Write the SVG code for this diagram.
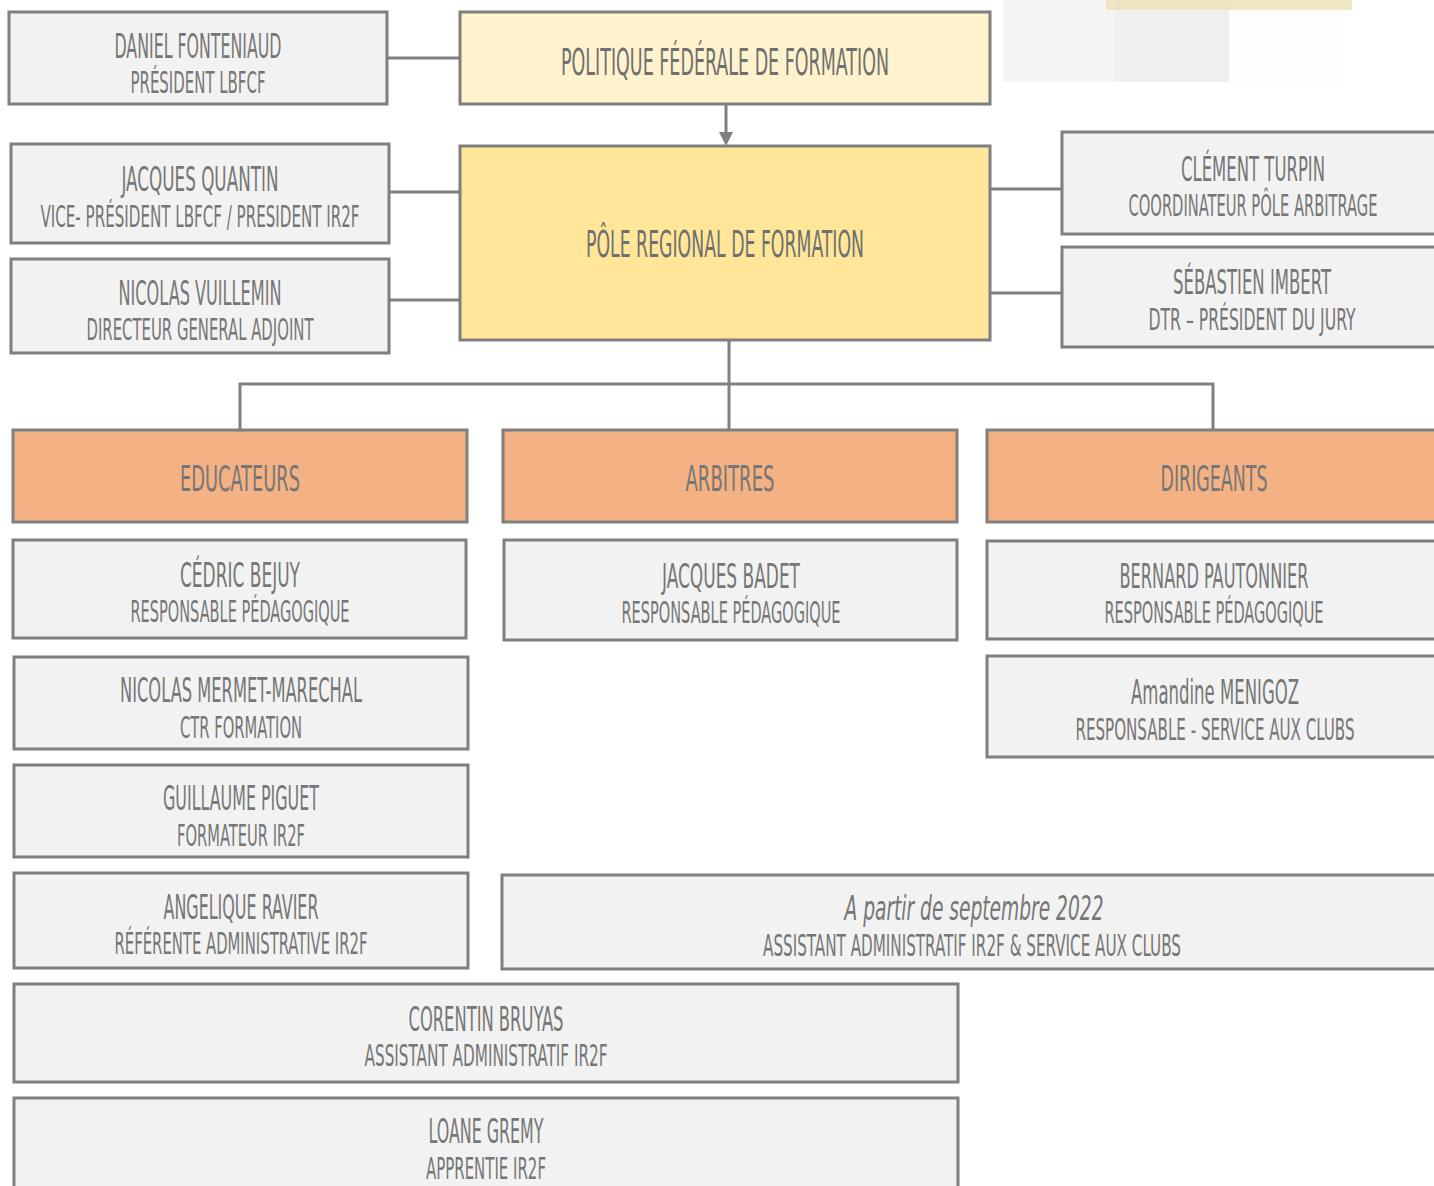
<svg xmlns="http://www.w3.org/2000/svg" width="1434" height="1186" viewBox="0 0 1434 1186">
<style>
.box{fill:#f2f2f2;stroke:#7f7f7f;stroke-width:3}
.pol{fill:#fff2cc;stroke:#7f7f7f;stroke-width:3}
.pole{fill:#ffe699;stroke:#7f7f7f;stroke-width:3}
.cat{fill:#f4b183;stroke:#7f7f7f;stroke-width:3}
.con{fill:none;stroke:#808080;stroke-width:3}
text{font-family:"Liberation Sans Narrow","DejaVu Sans Condensed","Liberation Sans",sans-serif;fill:#767676;text-anchor:middle}
.n{font-size:34px}
.s{font-size:30px}
.t{font-size:38px;fill:#6f6f6f}
.c{font-size:36px}
.i{font-style:italic}
</style>
<defs>
<marker id="ah" markerWidth="5" markerHeight="5" refX="2.5" refY="5" orient="auto" markerUnits="userSpaceOnUse"/>
</defs>
<g id="deco">
<rect x="1003" y="0" width="112" height="82" fill="#f5f5f5"/>
<rect x="1115" y="0" width="114" height="82" fill="#efefef"/>
<rect x="1229" y="0" width="113" height="82" fill="#fdfdfd"/>
<rect x="1106" y="0" width="246" height="10" fill="#ede2b8" opacity="0.85"/>
</g>
<g id="connectors">
<path class="con" d="M387 58H460"/>
<path class="con" d="M389 192H460"/>
<path class="con" d="M389 300H460"/>
<path class="con" d="M990 189H1062"/>
<path class="con" d="M990 293H1062"/>
<path class="con" d="M726 104V133"/>
<polygon points="719,132 733,132 726,146" fill="#808080"/>
<path class="con" d="M729 340V430"/>
<path class="con" d="M240 430V384H1213V430"/>
</g>
<g id="n-daniel"><rect class="box" x="9" y="12" width="378" height="92"/>
<text class="n" x="198" y="58" textLength="167" lengthAdjust="spacingAndGlyphs">DANIEL FONTENIAUD</text>
<text class="s" x="198" y="93" textLength="135" lengthAdjust="spacingAndGlyphs">PRÉSIDENT LBFCF</text></g>
<g id="n-politique"><rect class="pol" x="460" y="12" width="530" height="92"/>
<text class="t" x="725" y="75" textLength="328" lengthAdjust="spacingAndGlyphs">POLITIQUE FÉDÉRALE DE FORMATION</text></g>
<g id="n-pole"><rect class="pole" x="460" y="146" width="530" height="194"/>
<text class="t" x="725" y="257" textLength="278" lengthAdjust="spacingAndGlyphs">PÔLE REGIONAL DE FORMATION</text></g>
<g id="n-quantin"><rect class="box" x="11" y="144" width="378" height="99"/>
<text class="n" x="200" y="191" textLength="157" lengthAdjust="spacingAndGlyphs">JACQUES QUANTIN</text>
<text class="s" x="200" y="227" textLength="319" lengthAdjust="spacingAndGlyphs">VICE- PRÉSIDENT LBFCF / PRESIDENT IR2F</text></g>
<g id="n-vuillemin"><rect class="box" x="11" y="259" width="378" height="94"/>
<text class="n" x="200" y="305" textLength="163" lengthAdjust="spacingAndGlyphs">NICOLAS VUILLEMIN</text>
<text class="s" x="200" y="340" textLength="227" lengthAdjust="spacingAndGlyphs">DIRECTEUR GENERAL ADJOINT</text></g>
<g id="n-turpin"><rect class="box" x="1062" y="132" width="380" height="102"/>
<text class="n" x="1253" y="181" textLength="144" lengthAdjust="spacingAndGlyphs">CLÉMENT TURPIN</text>
<text class="s" x="1253" y="216" textLength="249" lengthAdjust="spacingAndGlyphs">COORDINATEUR PÔLE ARBITRAGE</text></g>
<g id="n-imbert"><rect class="box" x="1062" y="247" width="380" height="100"/>
<text class="n" x="1252" y="294" textLength="158" lengthAdjust="spacingAndGlyphs">SÉBASTIEN IMBERT</text>
<text class="s" x="1252" y="330" textLength="207" lengthAdjust="spacingAndGlyphs">DTR – PRÉSIDENT DU JURY</text></g>
<g id="n-educateurs"><rect class="cat" x="13" y="430" width="454" height="92"/>
<text class="c" x="240" y="491" textLength="120" lengthAdjust="spacingAndGlyphs">EDUCATEURS</text></g>
<g id="n-arbitres"><rect class="cat" x="503" y="430" width="454" height="92"/>
<text class="c" x="730" y="491" textLength="89" lengthAdjust="spacingAndGlyphs">ARBITRES</text></g>
<g id="n-dirigeants"><rect class="cat" x="987" y="430" width="455" height="92"/>
<text class="c" x="1214" y="491" textLength="107" lengthAdjust="spacingAndGlyphs">DIRIGEANTS</text></g>
<g id="n-bejuy"><rect class="box" x="13" y="540" width="453" height="98"/>
<text class="n" x="240" y="587" textLength="120" lengthAdjust="spacingAndGlyphs">CÉDRIC BEJUY</text>
<text class="s" x="240" y="622" textLength="219" lengthAdjust="spacingAndGlyphs">RESPONSABLE PÉDAGOGIQUE</text></g>
<g id="n-badet"><rect class="box" x="504" y="540" width="453" height="100"/>
<text class="n" x="731" y="588" textLength="138" lengthAdjust="spacingAndGlyphs">JACQUES BADET</text>
<text class="s" x="731" y="623" textLength="219" lengthAdjust="spacingAndGlyphs">RESPONSABLE PÉDAGOGIQUE</text></g>
<g id="n-pautonnier"><rect class="box" x="987" y="541" width="455" height="98"/>
<text class="n" x="1214" y="588" textLength="189" lengthAdjust="spacingAndGlyphs">BERNARD PAUTONNIER</text>
<text class="s" x="1214" y="623" textLength="219" lengthAdjust="spacingAndGlyphs">RESPONSABLE PÉDAGOGIQUE</text></g>
<g id="n-menigoz"><rect class="box" x="987" y="656" width="455" height="101"/>
<text class="n" x="1215" y="704" textLength="168" lengthAdjust="spacingAndGlyphs">Amandine MENIGOZ</text>
<text class="s" x="1215" y="740" textLength="279" lengthAdjust="spacingAndGlyphs">RESPONSABLE - SERVICE AUX CLUBS</text></g>
<g id="n-mermet"><rect class="box" x="14" y="657" width="454" height="92"/>
<text class="n" x="241" y="702" textLength="242" lengthAdjust="spacingAndGlyphs">NICOLAS MERMET-MARECHAL</text>
<text class="s" x="241" y="738" textLength="122" lengthAdjust="spacingAndGlyphs">CTR FORMATION</text></g>
<g id="n-piguet"><rect class="box" x="14" y="765" width="454" height="92"/>
<text class="n" x="241" y="810" textLength="156" lengthAdjust="spacingAndGlyphs">GUILLAUME PIGUET</text>
<text class="s" x="241" y="846" textLength="128" lengthAdjust="spacingAndGlyphs">FORMATEUR IR2F</text></g>
<g id="n-ravier"><rect class="box" x="14" y="873" width="454" height="95"/>
<text class="n" x="241" y="919" textLength="155" lengthAdjust="spacingAndGlyphs">ANGELIQUE RAVIER</text>
<text class="s" x="241" y="954" textLength="253" lengthAdjust="spacingAndGlyphs">RÉFÉRENTE ADMINISTRATIVE IR2F</text></g>
<g id="n-assistant"><rect class="box" x="502" y="875" width="940" height="94"/>
<text class="n i" x="974" y="920" textLength="259" lengthAdjust="spacingAndGlyphs">A partir de septembre 2022</text>
<text class="s" x="972" y="956" textLength="418" lengthAdjust="spacingAndGlyphs">ASSISTANT ADMINISTRATIF IR2F &amp; SERVICE AUX CLUBS</text></g>
<g id="n-bruyas"><rect class="box" x="14" y="984" width="944" height="98"/>
<text class="n" x="486" y="1031" textLength="155" lengthAdjust="spacingAndGlyphs">CORENTIN BRUYAS</text>
<text class="s" x="486" y="1066" textLength="243" lengthAdjust="spacingAndGlyphs">ASSISTANT ADMINISTRATIF IR2F</text></g>
<g id="n-gremy"><rect class="box" x="14" y="1098" width="944" height="100"/>
<text class="n" x="486" y="1143" textLength="115" lengthAdjust="spacingAndGlyphs">LOANE GREMY</text>
<text class="s" x="486" y="1179" textLength="120" lengthAdjust="spacingAndGlyphs">APPRENTIE IR2F</text></g>
</svg>
